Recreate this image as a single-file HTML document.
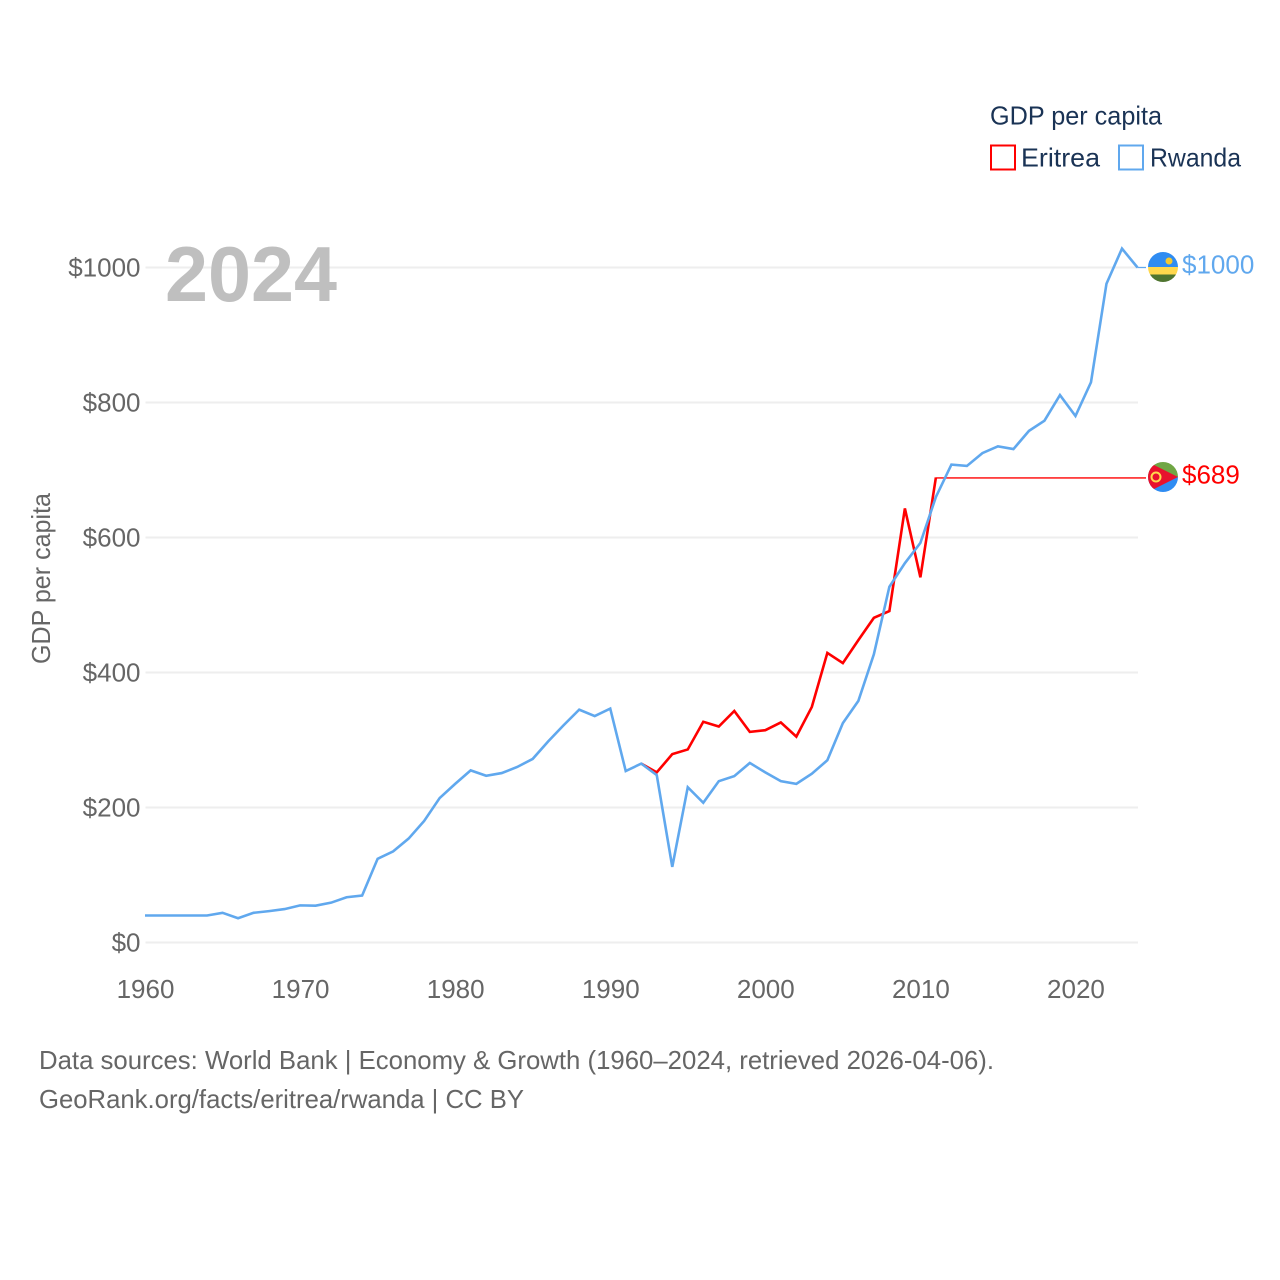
<!DOCTYPE html>
<html lang="en">
<head>
<meta charset="utf-8">
<title>GDP per capita: Eritrea and Rwanda</title>
<style>
html,body{margin:0;padding:0;background:#fff;width:1280px;height:1280px;overflow:hidden}
svg{display:block}
text{font-family:"Liberation Sans",sans-serif}
</style>
</head>
<body>
<svg id="chart" xmlns="http://www.w3.org/2000/svg" width="1280" height="1280" viewBox="0 0 1280 1280">
  <defs>
    <clipPath id="flag-clip-r"><circle cx="1163" cy="267" r="15"/></clipPath>
    <clipPath id="flag-clip-e"><circle cx="1163" cy="477" r="15"/></clipPath>
  </defs>
  <rect width="1280" height="1280" fill="#fff"/>
  <g id="grid"></g>
  <g id="yticks"></g>
  <g id="xticks"></g>
  <text x="165" y="301" font-size="78" font-weight="700" fill="#bfbfbf" textLength="172" lengthAdjust="spacingAndGlyphs">2024</text>
  <text transform="translate(50,664) rotate(-90)" font-size="26" fill="#666" textLength="171" lengthAdjust="spacingAndGlyphs">GDP per capita</text>
  <g id="series"></g>

  <g clip-path="url(#flag-clip-r)">
    <rect x="1148" y="252" width="30" height="15" fill="#2f8cf2"/>
    <rect x="1148" y="267" width="30" height="7.500" fill="#ffd84d"/>
    <rect x="1148" y="274.500" width="30" height="8" fill="#4f7530"/>
    <circle cx="1169" cy="261" r="3.500" fill="#f5c92f"/>
  </g>
  <g clip-path="url(#flag-clip-e)">
    <rect x="1148" y="462" width="30" height="15" fill="#6fa644"/>
    <rect x="1148" y="477" width="30" height="15" fill="#2f8cf2"/>
    <polygon points="1148,462 1178,477 1148,492" fill="#e8112d"/>
    <circle cx="1156" cy="477" r="4.500" fill="none" stroke="#ffd84d" stroke-width="2"/>
  </g>
  <text id="label-r" x="1182" y="273.500" font-size="26" fill="#60a8ee">$1000</text>
  <text id="label-e" x="1182" y="483.500" font-size="26" fill="#ff0000">$689</text>

  <g>
    <text x="990" y="124.500" font-size="26" fill="#1a3355" textLength="172" lengthAdjust="spacingAndGlyphs">GDP per capita</text>
    <g>
      <rect x="991" y="145.500" width="24" height="24" fill="none" stroke="#ff0000" stroke-width="2"/>
      <text x="1021" y="166.500" font-size="26" fill="#1a3355" textLength="79" lengthAdjust="spacingAndGlyphs">Eritrea</text>
    </g>
    <g>
      <rect x="1119" y="145.500" width="24" height="24" fill="none" stroke="#60a8ee" stroke-width="2"/>
      <text x="1150" y="166.500" font-size="26" fill="#1a3355" textLength="91" lengthAdjust="spacingAndGlyphs">Rwanda</text>
    </g>
  </g>

  <text x="39" y="1069" font-size="26" fill="#666" textLength="955" lengthAdjust="spacingAndGlyphs">Data sources: World Bank | Economy &amp; Growth (1960–2024, retrieved 2026-04-06).</text>
  <text x="39" y="1108" font-size="26" fill="#666" textLength="485" lengthAdjust="spacingAndGlyphs">GeoRank.org/facts/eritrea/rwanda | CC BY</text>
</svg>
<script>
const yTickValues = [0, 200, 400, 600, 800, 1000];
const xTickYears = [1960, 1970, 1980, 1990, 2000, 2010, 2020];
const rwandaStartYear = 1960;
const rwandaValues = [40,40,40,40,40,44,36,44,46.5,49.5,55,54.5,59,67,69.5,124,135,154,180,214,235,255,247,251,260,272,298,322,345,335.5,346.5,254,265,248,112,230,207,239,246.5,266,252,239,235,250,270,325,358,427,527,562,592,660,708,706,725,735,731,758,773,811,780,830,976,1028,1000];
const eritreaStartYear = 1992;
const eritreaValues = [265,252,279,286,327,320,343,312,314.5,326,305,349,429,414,448,481,491,643,541,689];

const NS = 'http://www.w3.org/2000/svg';
const xScale = year => 145 + (year - 1960) * (1137.5 - 145) / 64;
const yScale = value => 942.5 - value * 0.675;
const lastX = xScale(2024);
const connectorX = 1146;

function svgEl(tag, attrs, parent) {
  const el = document.createElementNS(NS, tag);
  for (const k in attrs) el.setAttribute(k, attrs[k]);
  parent.appendChild(el);
  return el;
}
const gridG = document.getElementById('grid');
const yG = document.getElementById('yticks');
const xG = document.getElementById('xticks');
const seriesG = document.getElementById('series');

yTickValues.forEach(v => {
  const line = svgEl('line', {x1: 145.5, x2: 1138, y1: yScale(v), y2: yScale(v), stroke: '#eeeeee', 'stroke-width': 2}, gridG);
  
  
  const t = svgEl('text', {x: 140.5, y: yScale(v) + 9, 'font-size': 26, fill: '#666', 'text-anchor': 'end'}, yG);
  
  
  t.textContent = '$' + v;
});
xTickYears.forEach(y => {
  const t = svgEl('text', {x: xScale(y) + 0.5, y: 998, 'font-size': 26, fill: '#666', 'text-anchor': 'middle'}, xG);
  
  
  t.textContent = y;
});

function seriesPoints(startYear, values) {
  return values.map((v, i) => xScale(startYear + i).toFixed(2) + ',' + yScale(v).toFixed(2)).join(' ');
}
const eritreaLine = svgEl('polyline', {points: seriesPoints(eritreaStartYear, eritreaValues), fill: 'none', stroke: '#ff0000', 'stroke-width': 2.6, 'stroke-linejoin': 'miter'}, seriesG);


const eritreaLast = eritreaValues[eritreaValues.length - 1];
const eritreaEndX = xScale(eritreaStartYear + eritreaValues.length - 1);
const eritreaConnector = svgEl('line', {x1: eritreaEndX, x2: connectorX, y1: yScale(eritreaLast) + 0.5, y2: yScale(eritreaLast) + 0.5, stroke: '#ff0000', 'stroke-width': 1.3}, seriesG);



const rwandaLine = svgEl('polyline', {points: seriesPoints(rwandaStartYear, rwandaValues), fill: 'none', stroke: '#60a8ee', 'stroke-width': 2.6, 'stroke-linejoin': 'miter'}, seriesG);


const rwandaLast = rwandaValues[rwandaValues.length - 1];
const rwandaConnector = svgEl('line', {x1: lastX, x2: connectorX, y1: yScale(rwandaLast), y2: yScale(rwandaLast), stroke: '#60a8ee', 'stroke-width': 1.3}, seriesG);



document.getElementById('label-r').textContent = '$' + rwandaLast;
document.getElementById('label-e').textContent = '$' + eritreaLast;
</script>
</body>
</html>
